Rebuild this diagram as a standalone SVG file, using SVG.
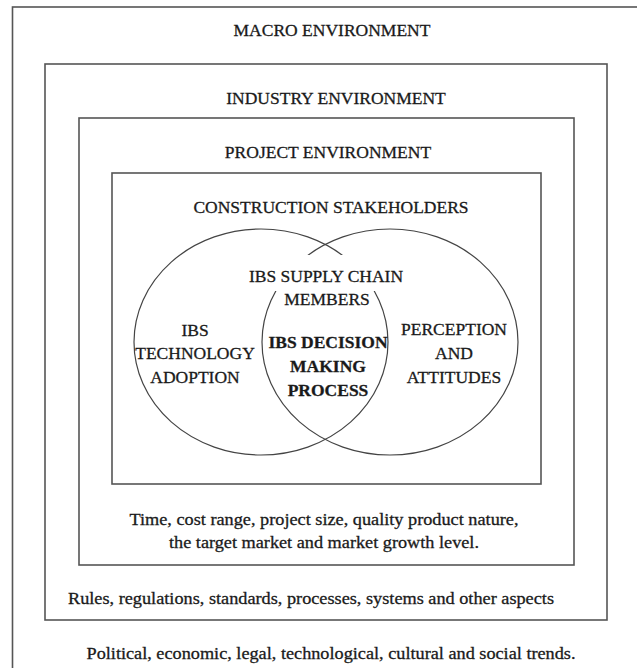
<svg xmlns="http://www.w3.org/2000/svg" width="637" height="668" viewBox="0 0 637 668">
<style>
.box{fill:none;stroke:#555;stroke-width:1.6}
.ell{fill:none;stroke:#444;stroke-width:1.2}
.t{font-family:"Liberation Serif","Times New Roman",serif;font-size:17.5px;fill:#1a1a1a;stroke:#1a1a1a;stroke-width:0.3;text-anchor:middle}
.b{font-weight:bold}
</style>
<rect width="637" height="668" fill="#fff"/>
<g id="macro">
<rect class="box" x="12.5" y="7" width="640" height="680"/>
<text class="t" x="332" y="36">MACRO ENVIRONMENT</text>
<text class="t" x="331" y="659" textLength="489" lengthAdjust="spacingAndGlyphs">Political, economic, legal, technological, cultural and social trends.</text>
</g>
<g id="industry">
<rect class="box" x="45" y="64" width="562" height="556"/>
<text class="t" x="336" y="104">INDUSTRY ENVIRONMENT</text>
<text class="t" x="311" y="604" textLength="486" lengthAdjust="spacingAndGlyphs">Rules, regulations, standards, processes, systems and other aspects</text>
</g>
<g id="project">
<rect class="box" x="79" y="118" width="495" height="447"/>
<text class="t" x="328" y="158">PROJECT ENVIRONMENT</text>
<text class="t" x="324" y="525" textLength="389" lengthAdjust="spacingAndGlyphs">Time, cost range, project size, quality product nature,</text>
<text class="t" x="324" y="548" textLength="310" lengthAdjust="spacingAndGlyphs">the target market and market growth level.</text>
</g>
<g id="stakeholders">
<rect class="box" x="112" y="173" width="429" height="311"/>
<text class="t" x="331" y="213">CONSTRUCTION STAKEHOLDERS</text>
</g>
<g id="connectors">
<ellipse class="ell" cx="261" cy="342" rx="127" ry="113"/>
<ellipse class="ell" cx="390" cy="342" rx="128" ry="113"/>
<rect x="250" y="255" width="152" height="36" fill="#fff"/>
</g>
<g id="supply-chain">
<text class="t" x="326" y="282">IBS SUPPLY CHAIN</text>
<text class="t" x="327" y="305">MEMBERS</text>
</g>
<g id="technology">
<text class="t" x="195" y="336">IBS</text>
<text class="t" x="195" y="359">TECHNOLOGY</text>
<text class="t" x="195" y="383">ADOPTION</text>
</g>
<g id="decision">
<text class="t b" x="328" y="348">IBS DECISION</text>
<text class="t b" x="328" y="372">MAKING</text>
<text class="t b" x="328" y="396">PROCESS</text>
</g>
<g id="perception">
<text class="t" x="454" y="335">PERCEPTION</text>
<text class="t" x="454" y="359">AND</text>
<text class="t" x="454" y="383">ATTITUDES</text>
</g>
</svg>
